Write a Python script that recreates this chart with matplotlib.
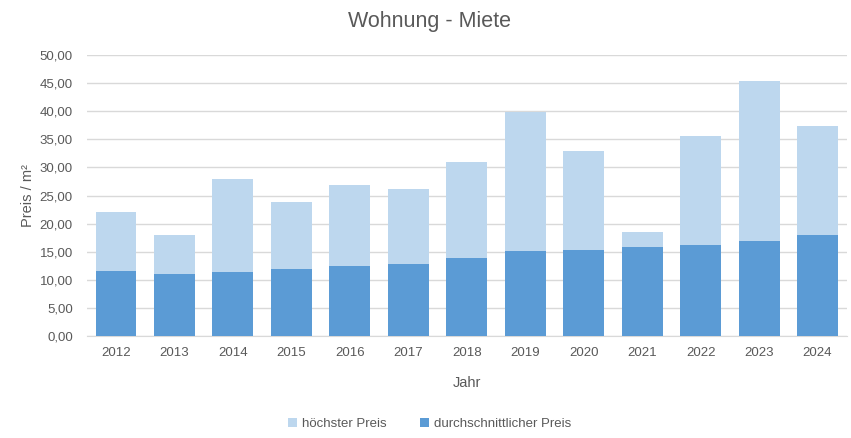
import numpy as np
import matplotlib.pyplot as plt
from matplotlib.ticker import FuncFormatter

# Daten
jahre = ['2012', '2013', '2014', '2015', '2016', '2017', '2018',
         '2019', '2020', '2021', '2022', '2023', '2024']
hoechster_preis = [22.0, 18.0, 28.0, 23.9, 26.9, 26.1, 31.0,
                   39.9, 32.9, 18.5, 35.6, 45.4, 37.4]
durchschnitt_preis = [11.6, 11.0, 11.4, 11.9, 12.5, 12.8, 13.9,
                      15.1, 15.3, 15.8, 16.2, 16.9, 18.0]

hell = '#BDD7EE'
dunkel = '#5B9BD5'
text_farbe = '#595959'
gitter = '#D9D9D9'

plt.rcParams['font.family'] = ['Liberation Sans', 'DejaVu Sans']

fig = plt.figure(figsize=(8.51, 4.38), dpi=100)
ax = fig.add_axes([0.102, 0.233, 0.893, 0.641])

x = np.arange(len(jahre))
ax.bar(x, hoechster_preis, width=0.7, color=hell, label='höchster Preis', zorder=2)
ax.bar(x, durchschnitt_preis, width=0.7, color=dunkel, label='durchschnittlicher Preis', zorder=3)

ax.set_xlim(-0.5, len(jahre) - 0.5)
ax.set_ylim(0, 50)
ax.set_yticks(np.arange(0, 51, 5))
ax.yaxis.set_major_formatter(FuncFormatter(lambda v, p: f'{v:.2f}'.replace('.', ',')))
ax.set_xticks(x)
ax.set_xticklabels(jahre)

ax.grid(axis='y', color=gitter, linewidth=1, zorder=0)
for s in ['top', 'right', 'left']:
    ax.spines[s].set_visible(False)
ax.spines['bottom'].set_color(gitter)
ax.tick_params(length=0, colors=text_farbe, labelsize=9.5)
ax.tick_params(axis='x', pad=8)
ax.tick_params(axis='y', pad=10)

fig.suptitle('Wohnung - Miete', color=text_farbe, fontsize=15.5, x=0.505, y=0.95, va='center')
ax.set_xlabel('Jahr', color=text_farbe, fontsize=10.5, labelpad=12)
ax.set_ylabel('Preis / m²', color=text_farbe, fontsize=10.5, labelpad=3)

fig.legend(loc='center', bbox_to_anchor=(0.505, 0.032), ncol=2, frameon=False,
           fontsize=9.5, labelcolor=text_farbe, handlelength=0.7, handleheight=0.7,
           columnspacing=2.5, handletextpad=0.4)

fig.savefig('out.png', dpi=100)
